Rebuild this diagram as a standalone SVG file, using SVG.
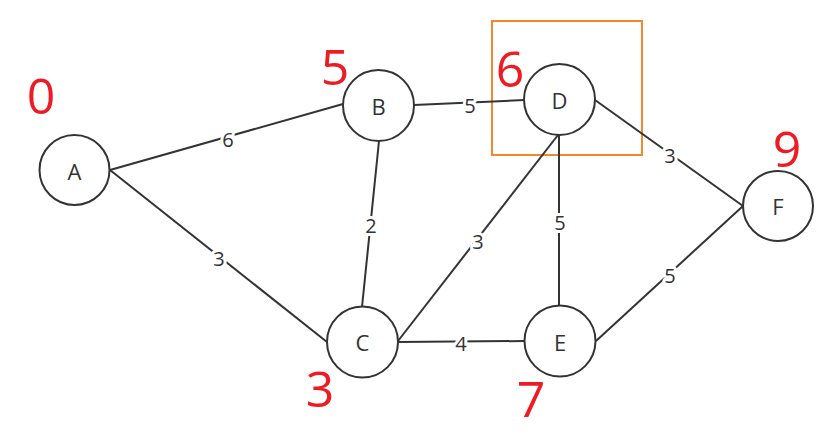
<svg xmlns="http://www.w3.org/2000/svg" width="836" height="432" viewBox="0 0 836 432">
<style>
.node circle{fill:#fff;stroke:#333;stroke-width:2}
.node text{font-family:"Open Sans","Noto Sans",sans-serif;font-size:22px;fill:#333;text-anchor:middle;dominant-baseline:central}
.edges line{stroke:#333;stroke-width:2}
.lbl{font-family:"Open Sans","Noto Sans",sans-serif;font-size:20px;fill:#333;text-anchor:middle;dominant-baseline:central;stroke:#fff;stroke-width:6;paint-order:stroke;stroke-linejoin:round}
.dist{font-family:"Open Sans","Noto Sans",sans-serif;font-size:50px;fill:#ED1C24;text-anchor:middle}
</style>
<rect x="492" y="21" width="150" height="134" fill="none" stroke="#F5872E" stroke-width="2"/>
<g id="connectors" class="edges">
<line x1="110" y1="170" x2="343" y2="104"/>
<line x1="110" y1="170" x2="327" y2="342"/>
<line x1="379" y1="141" x2="362" y2="307"/>
<line x1="414" y1="105" x2="524" y2="100"/>
<line x1="558" y1="135" x2="398" y2="341"/>
<line x1="559" y1="135" x2="559" y2="306"/>
<line x1="595" y1="100" x2="743" y2="206"/>
<line x1="398" y1="342" x2="524" y2="341"/>
<line x1="596" y1="341" x2="743" y2="206"/>
<text class="lbl" x="228" y="139">6</text>
<text class="lbl" x="219" y="258">3</text>
<text class="lbl" x="371" y="225">2</text>
<text class="lbl" x="470" y="105">5</text>
<text class="lbl" x="478" y="241">3</text>
<text class="lbl" x="560" y="222">5</text>
<text class="lbl" x="670" y="155">3</text>
<text class="lbl" x="461" y="343">4</text>
<text class="lbl" x="670" y="275">5</text>
</g>
<g id="A" class="node"><circle cx="74.5" cy="170" r="35"/><text x="74.5" y="171">A</text></g>
<g id="B" class="node"><circle cx="378.5" cy="105.5" r="35.5"/><text x="378.5" y="106">B</text></g>
<g id="C" class="node"><circle cx="362.5" cy="342" r="35.5"/><text x="362.5" y="342">C</text></g>
<g id="D" class="node"><circle cx="559.5" cy="99.5" r="35.5"/><text x="559.5" y="100">D</text></g>
<g id="E" class="node"><circle cx="560" cy="341" r="35.5"/><text x="560" y="342">E</text></g>
<g id="F" class="node"><circle cx="778" cy="206" r="35"/><text x="778" y="206">F</text></g>
<g id="distances">
<text class="dist" x="41" y="114">0</text>
<text class="dist" x="335" y="85">5</text>
<text class="dist" x="510" y="87">6</text>
<text class="dist" x="320" y="407">3</text>
<text class="dist" x="531" y="417" font-size="44">7</text>
<text class="dist" x="787" y="167">9</text>
</g>
</svg>
